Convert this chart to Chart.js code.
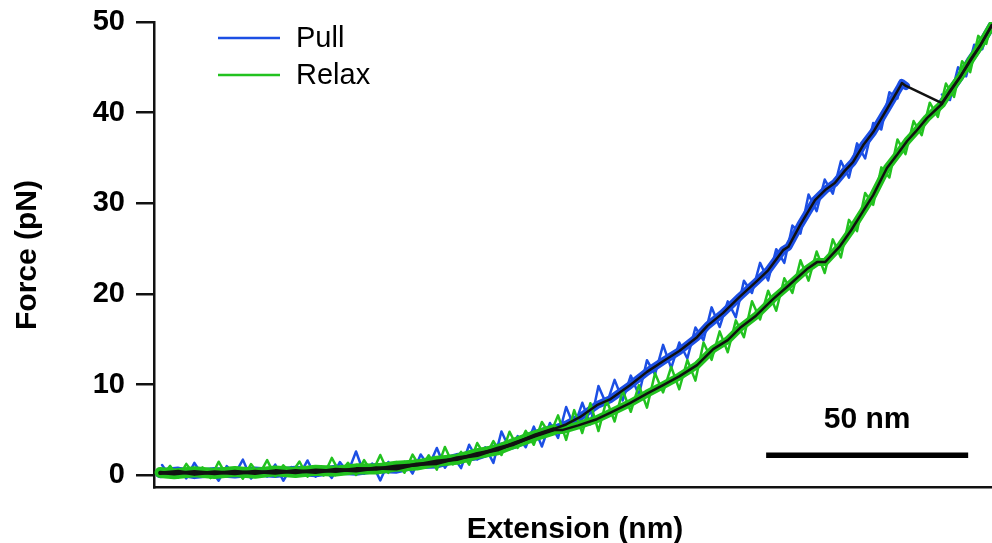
<!DOCTYPE html>
<html>
<head>
<meta charset="utf-8">
<title>Force-extension</title>
<script src="https://cdn.jsdelivr.net/npm/chart.js@4.4.1/dist/chart.umd.min.js"></script>
<style>
  html, body { margin: 0; padding: 0; background: #fff; }
  #fx { display: block; }
</style>
</head>
<body>
<canvas id="fx" width="992" height="543"></canvas>
<script>
(() => {
  'use strict';

  // ===== Data (extension in nm, force in pN) =====
  const seriesNames = ['Pull', 'Relax'];
  const yTicks = [0, 10, 20, 30, 40, 50];

  // raw traces
  const pullTraceExt = [2,4,6,8,10,12,14,16,18,20,22,24,26,28,30,32,34,36,38,40,
    42,44,46,48,50,52,54,56,58,60,62,64,66,68,70,72,74,76,78,80,
    82,84,86,88,90,92,94,96,98,100,102,104,106,108,110,112,114,116,118,120,
    122,124,126,128,130,132,134,136,138,140,142,144,146,148,150,152,154,156,158,160,
    162,164,166,168,170,172,174,176,178,180,182,184,185,190,
    195,197,199,201,203,205,207];
  const pullTraceForce = [1.12,-0.17,0.74,-0.35,1.36,-0.03,0.68,-0.61,1.00,0.11,
    1.72,-0.37,0.64,-0.14,1.17,-0.61,0.90,0.01,1.63,-0.16,
    0.77,-0.29,1.45,0.28,2.62,0.16,1.29,-0.57,1.46,0.46,
    1.47,0.18,2.29,1.00,3.01,0.82,2.09,0.78,3.36,1.75,
    3.09,1.36,4.83,2.90,4.32,3.09,5.36,3.17,5.76,4.12,
    7.52,5.32,7.99,5.62,9.84,7.78,10.52,8.25,10.99,8.84,
    12.69,11.13,14.38,11.81,14.64,12.87,16.30,14.89,18.52,16.35,
    19.18,17.42,21.46,20.10,23.43,21.48,24.94,23.43,27.54,26.66,
    30.96,29.13,32.62,31.07,34.66,32.83,36.61,34.94,38.86,38.15,
    42.26,41.57,43.5,null,
    42.0,41.4,45.0,44.0,47.5,47.0,49.9];

  const relaxTraceExt = [2,4,6,8,10,12,14,16,18,20,22,24,26,28,30,32,34,36,38,40,
    42,44,46,48,50,52,54,56,58,60,62,64,66,68,70,72,74,76,78,80,
    82,84,86,88,90,92,94,96,98,100,102,104,106,108,110,112,114,116,118,120,
    122,124,126,128,130,132,134,136,138,140,142,144,146,148,150,152,154,156,158,160,
    162,164,166,168,170,172,174,176,178,180,182,184,186,188,190,192,194,196,198,200,
    202,204,206,207];
  const relaxTraceForce = [-0.08,1.03,-0.26,1.25,0.06,0.87,-0.32,1.49,-0.10,0.81,
    -0.38,1.23,0.04,1.66,-0.13,1.09,0.20,1.51,-0.17,0.84,
    -0.03,1.91,0.25,1.38,0.02,1.66,0.29,2.23,0.26,1.46,
    0.27,2.28,0.79,2.20,0.61,3.12,1.19,2.58,1.16,3.55,
    2.09,3.76,2.23,4.80,3.02,4.89,3.36,5.87,4.46,6.6,
    3.9,7.18,4.66,7.95,4.87,8.30,5.93,9.36,7.00,9.93,
    7.46,11.25,9.13,11.95,9.48,12.71,10.44,14.65,12.73,15.87,
    13.57,17.08,15.22,19.20,17.18,20.36,18.14,21.73,20.12,23.71,
    21.46,24.68,22.31,26.02,24.02,28.17,26.93,31.14,29.83,33.96,
    32.85,37.04,35.43,39.07,37.52,41.10,39.53,43.21,41.74,45.68,
    44.47,48.47,47.59,49.6];

  // smoothed traces (black)
  const pullSmoothExt = [1.5,6,10,15,20,25,30,35,40,45,50,55,60,65,70,75,80,85,89,94.3,
    98.8,102,105.4,109.6,113,117.8,122,126,130,134.4,137,140.8,145,149.2,152,155.7,157,159.9,163.6,166.1,
    168.5,171,173,175.5,178,181.4,184.6,185.1,186.1,195,197,199.5,202,204.4,207.4];
  const pullSmoothForce = [0.22,0.40,0.12,0.35,0.20,0.42,0.25,0.50,0.32,0.62,0.48,0.80,0.72,1.22,1.30,1.90,2.20,2.95,3.42,4.42,
    5.08,5.6,6.40,7.73,8.4,9.93,11.4,12.58,13.7,15.23,16.5,17.88,19.7,21.41,22.6,24.83,25.2,27.59,30.35,31.46,
    32.23,33.6,34.55,36.4,37.86,40.40,42.83,43.27,42.94,41.06,42.3,43.93,45.8,47.35,49.67];
  const pullRuptureAt = 48; // last point before the force drop

  const relaxSmoothExt = [1.5,5,10,15,20,25,30,35,40,45,50,55,60,65,70,75,80,85,89,94.3,
    98.8,101.2,105,109.6,113,117.8,122,126,130,134.4,138.4,142,145,149,153.2,157,161.6,164.1,166.1,169.8,
    172.5,175.5,178,181.4,184,186.4,188.5,191.3,195,197,199.5,202,204.4,207.4];
  const relaxSmoothForce = [0.30,0.15,0.38,0.18,0.40,0.22,0.48,0.30,0.55,0.45,0.70,0.68,1.00,1.12,1.55,1.75,2.38,2.80,3.50,4.35,
    5.0,5.0,5.5,6.18,6.9,7.95,9.0,9.93,10.9,12.14,13.91,14.9,16.23,17.6,19.43,20.9,22.74,23.51,23.51,25.28,
    27.0,29.14,30.9,33.89,35.4,36.87,37.9,39.40,40.95,42.4,43.93,45.7,47.35,49.67];

  // 50 nm scale bar
  const scaleBarExt = [151.5, 201.5];
  const scaleBarForce = [2.2, 2.2];
  const scaleBarText = '50 nm';

  const xRange = [0, 207.4];
  const yRange = [-1.3, 50];

  // ===== Styles =====
  const BLUE = '#1c4fe4';
  const GREEN = '#22c21f';
  const INK = '#111';
  const FONT = '"Liberation Sans", Arial, Helvetica, sans-serif';

  const pts = (xs, ys) => xs.map((x, i) => ({ x, y: ys[i] }));

  const pullSmooth = pts(pullSmoothExt, pullSmoothForce);
  const relaxSmooth = pts(relaxSmoothExt, relaxSmoothForce);
  // colored band for pull stops at the rupture, resumes on the refolded branch
  const pullBand = pullSmooth.flatMap((p, i) => i === pullRuptureAt ? [p, { x: p.x, y: null }] : [p]);

  const lineDs = (data, color, width, order, extra) => Object.assign({
    data, borderColor: color, borderWidth: width, order,
    pointRadius: 0, tension: 0, fill: false, spanGaps: false,
    borderJoinStyle: 'round', borderCapStyle: 'round'
  }, extra || {});

  // flat part of the curve is noisier -> wider stroke there
  const bandWidth = (low, high) => ({
    segment: { borderWidth: (ctx) => (ctx.p0.parsed.x < 96 ? low : high) }
  });

  // ===== Overlay: axis titles, legend, scale-bar label =====
  const overlay = {
    id: 'overlay',
    afterDraw(chart) {
      const c = chart.ctx;
      const { x, y } = chart.scales;
      c.save();
      c.fillStyle = '#000';

      // legend
      const legend = [[seriesNames[0], BLUE, 38], [seriesNames[1], GREEN, 75]];
      c.font = '29px ' + FONT;
      c.textBaseline = 'middle';
      c.textAlign = 'left';
      for (const [name, color, ly] of legend) {
        c.strokeStyle = color;
        c.lineWidth = 2.5;
        c.beginPath();
        c.moveTo(218, ly);
        c.lineTo(280, ly);
        c.stroke();
        c.fillText(name, 296, ly + 1);
      }

      // x title
      c.font = 'bold 30px ' + FONT;
      c.textAlign = 'center';
      c.textBaseline = 'alphabetic';
      c.fillText('Extension (nm)', 575, 538);

      // y title
      c.save();
      c.translate(36, 255);
      c.rotate(-Math.PI / 2);
      c.fillText('Force (pN)', 0, 0);
      c.restore();

      // scale bar label
      const cx = x.getPixelForValue((scaleBarExt[0] + scaleBarExt[1]) / 2);
      const by = y.getPixelForValue(scaleBarForce[0]);
      c.fillText(scaleBarText, cx, by - 27);
      c.restore();
    }
  };

  new Chart(document.getElementById('fx').getContext('2d'), {
    type: 'line',
    data: {
      datasets: [
        lineDs(pullSmooth, INK, 2.5, 0, bandWidth(3.5, 2.5)),
        lineDs(relaxSmooth, INK, 2.5, 0, bandWidth(3.5, 2.5)),
        lineDs(pts(scaleBarExt, scaleBarForce), '#000', 5.5, 0, { borderCapStyle: 'butt' }),
        lineDs(pts(relaxTraceExt, relaxTraceForce), GREEN, 2.5, 1),
        lineDs(relaxSmooth, GREEN, 8, 2, bandWidth(11, 8)),
        lineDs(pts(pullTraceExt, pullTraceForce), BLUE, 2.5, 3),
        lineDs(pullBand, BLUE, 8, 4, bandWidth(10, 8))
      ]
    },
    options: {
      responsive: false,
      animation: false,
      events: [],
      layout: { padding: { top: 22, right: 0, left: 0, bottom: 0 } },
      plugins: { legend: { display: false }, tooltip: { enabled: false } },
      scales: {
        x: {
          type: 'linear',
          min: xRange[0], max: xRange[1],
          ticks: { display: false },
          grid: { display: false },
          border: { display: true, color: INK, width: 2.5 },
          afterFit: (s) => { s.height = 56; s.paddingLeft = 0; s.paddingRight = 0; }
        },
        y: {
          type: 'linear',
          min: yRange[0], max: yRange[1],
          afterBuildTicks: (s) => { s.ticks = yTicks.map(v => ({ value: v })); },
          ticks: {
            color: '#000',
            padding: 11,
            font: { family: FONT, size: 29, weight: 'bold' }
          },
          grid: { drawOnChartArea: false, drawTicks: true, tickLength: 18, color: INK, lineWidth: 2.5 },
          border: { display: true, color: INK, width: 2.5 },
          afterFit: (s) => { s.width = 154; s.paddingTop = 0; s.paddingBottom = 0; }
        }
      }
    },
    plugins: [overlay]
  });
})();
</script>
</body>
</html>
